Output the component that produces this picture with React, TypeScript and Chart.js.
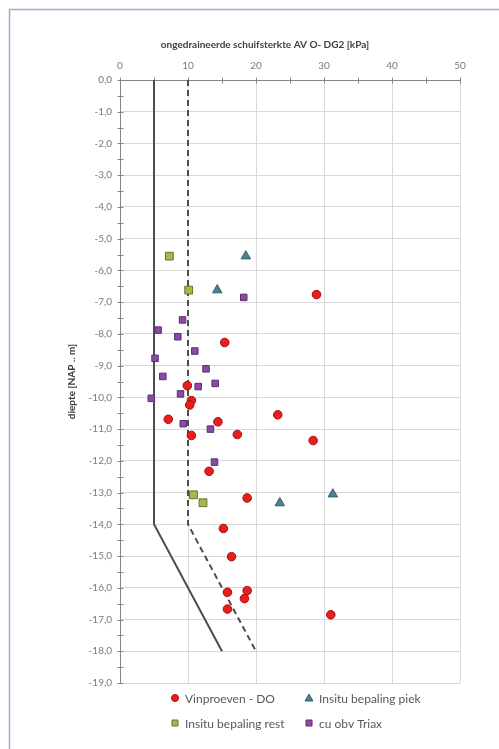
import React, { useEffect, useRef } from "react";
import { Chart, registerables } from "chart.js";

Chart.register(...registerables);

const TITLE = "ongedraineerde schuifsterkte AV O- DG2 [kPa]";
const Y_TITLE = "diepte [NAP .. m]";

// Vinproeven - DO (red circles)
const vinX = [28.9, 15.4, 9.9, 10.5, 10.25, 23.2, 7.1, 14.4, 10.5, 17.25, 28.4, 13.1, 18.7, 15.2, 16.4, 15.8, 18.7, 18.3, 15.8, 31.0];
const vinY = [-6.76, -8.27, -9.63, -10.1, -10.24, -10.55, -10.69, -10.77, -11.2, -11.17, -11.36, -12.33, -13.17, -14.13, -15.02, -16.14, -16.09, -16.34, -16.67, -16.85];

// Insitu bepaling piek (triangles)
const piekX = [18.5, 14.3, 31.3, 23.5];
const piekY = [-5.55, -6.62, -13.05, -13.33];

// Insitu bepaling rest (green squares)
const restX = [7.25, 10.1, 10.8, 12.2];
const restY = [-5.55, -6.62, -13.07, -13.32];

// cu obv Triax (purple squares)
const triaxX = [18.2, 9.2, 5.6, 8.5, 11.0, 5.15, 12.65, 6.3, 11.5, 14.0, 8.9, 4.6, 9.3, 13.3, 13.9];
const triaxY = [-6.85, -7.56, -7.88, -8.09, -8.54, -8.77, -9.1, -9.34, -9.66, -9.56, -9.89, -10.03, -10.83, -11.0, -12.04];

// design lines
const lowerLineX = [5, 5, 15];
const upperLineX = [10, 10, 20];
const lineY = [0, -14, -18];

const X_MIN = 0, X_MAX = 50, X_STEP = 5, X_LABEL_STEP = 10;
const Y_MIN = -19, Y_MAX = 0, Y_STEP = 0.5;

const zip = (xs: number[], ys: number[]) => xs.map((x, i) => ({ x, y: ys[i] }));

const COLORS = {
  red: "#e61e1e", redB: "#a80f0f",
  tri: "#4d7f92", triB: "#355f6e",
  green: "#a9b64a", greenB: "#6d7030",
  purple: "#8a4ba6", purpleB: "#5a2e70",
  grid: "#d9d9d9", axis: "#868686", text: "#7a7a7a",
};

const legendItems = [
  { label: "Vinproeven - DO", style: "circle", fill: COLORS.red, border: COLORS.redB, col: 0, row: 0 },
  { label: "Insitu bepaling piek", style: "triangle", fill: COLORS.tri, border: COLORS.triB, col: 1, row: 0 },
  { label: "Insitu bepaling rest", style: "rect", fill: COLORS.green, border: COLORS.greenB, col: 0, row: 1 },
  { label: "cu obv Triax", style: "rect", fill: COLORS.purple, border: COLORS.purpleB, col: 1, row: 1 },
];

const decorPlugin = {
  id: "decor",
  beforeDatasetsDraw(chart: any) {
    const { ctx, chartArea } = chart;
    const xs = chart.scales.x, ys = chart.scales.y;
    ctx.save();
    ctx.strokeStyle = COLORS.axis;
    ctx.lineWidth = 1;
    // left axis
    const ax = Math.round(chartArea.left) + 0.5;
    const ay = Math.round(chartArea.top) + 0.5;
    ctx.beginPath();
    ctx.moveTo(ax, ys.getPixelForValue(Y_MIN));
    ctx.lineTo(ax, ay);
    ctx.lineTo(xs.getPixelForValue(X_MAX), ay);
    ctx.stroke();
    ctx.beginPath();
    for (let v = Y_MIN; v <= Y_MAX + 1e-9; v += Y_STEP) {
      const py = Math.round(ys.getPixelForValue(v)) + 0.5;
      ctx.moveTo(ax - 3, py);
      ctx.lineTo(ax + 3, py);
    }
    for (let v = X_MIN; v <= X_MAX + 1e-9; v += X_STEP) {
      const px = Math.round(xs.getPixelForValue(v)) + 0.5;
      ctx.moveTo(px, ay - 3);
      ctx.lineTo(px, ay + 3);
    }
    ctx.stroke();
    ctx.restore();
  },
  afterDraw(chart: any) {
    const { ctx, chartArea } = chart;
    ctx.save();
    // frame
    ctx.strokeStyle = "#a7a5cf";
    ctx.lineWidth = 1.5;
    ctx.beginPath();
    ctx.moveTo(9.5, chart.height);
    ctx.lineTo(9.5, 9.5);
    ctx.lineTo(chart.width, 9.5);
    ctx.stroke();
    // title
    ctx.fillStyle = "#404040";
    ctx.font = "bold 10px Lato";
    ctx.textAlign = "center";
    ctx.textBaseline = "middle";
    ctx.fillText(TITLE, 265, 45);
    // y title
    ctx.save();
    ctx.translate(72, (chartArea.top + chartArea.bottom) / 2);
    ctx.rotate(-Math.PI / 2);
    ctx.fillText(Y_TITLE, 0, 0);
    ctx.restore();
    // legend
    ctx.font = "12px Lato";
    ctx.textAlign = "left";
    ctx.fillStyle = "#595959";
    const colX = [175, 309];
    const rowY = [698, 723];
    legendItems.forEach((it) => {
      const x = colX[it.col], y = rowY[it.row];
      ctx.fillStyle = it.fill;
      ctx.strokeStyle = it.border;
      ctx.lineWidth = 1;
      ctx.beginPath();
      if (it.style === "circle") {
        ctx.arc(x, y, 3.5, 0, Math.PI * 2);
      } else if (it.style === "triangle") {
        ctx.moveTo(x, y - 4);
        ctx.lineTo(x + 4, y + 3);
        ctx.lineTo(x - 4, y + 3);
        ctx.closePath();
      } else {
        ctx.rect(x - 3, y - 3, 6, 6);
      }
      ctx.fill();
      ctx.stroke();
      ctx.fillStyle = "#595959";
      ctx.fillText(it.label, x + 10, y + 1);
    });
    ctx.restore();
  },
};

export default function App() {
  const ref = useRef<HTMLCanvasElement | null>(null);
  useEffect(() => {
    if (!ref.current) return;
    Chart.defaults.font.family = "Lato";
    const pointDs = (label: string, xs: number[], ys: number[], style: string, r: number, fill: string, border: string) => ({
      label,
      data: zip(xs, ys),
      pointStyle: style,
      pointRadius: r,
      pointHoverRadius: r,
      backgroundColor: fill,
      borderColor: border,
      borderWidth: 1,
      showLine: false,
      order: 0,
    });
    const chart = new Chart(ref.current, {
      type: "scatter",
      data: {
        datasets: [
          pointDs("Vinproeven - DO", vinX, vinY, "circle", 4.3, COLORS.red, COLORS.redB),
          pointDs("Insitu bepaling piek", piekX, piekY, "triangle", 5.5, COLORS.tri, COLORS.triB),
          pointDs("Insitu bepaling rest", restX, restY, "rect", 5.5, COLORS.green, COLORS.greenB),
          pointDs("cu obv Triax", triaxX, triaxY, "rect", 4.6, COLORS.purple, COLORS.purpleB),
          {
            label: "ondergrens",
            data: zip(lowerLineX, lineY),
            showLine: true,
            pointRadius: 0,
            borderColor: "#4d4d4d",
            borderWidth: 2,
            fill: false,
            order: 1,
          },
          {
            label: "rekenwaarde",
            data: zip(upperLineX, lineY),
            showLine: true,
            pointRadius: 0,
            borderColor: "#4d4d4d",
            borderWidth: 2,
            borderDash: [6, 4],
            fill: false,
            order: 1,
          },
        ] as any,
      },
      options: {
        animation: false,
        responsive: false,
        devicePixelRatio: 1,
        layout: { padding: { left: 0, right: 39, top: 0, bottom: 66 } },
        plugins: { legend: { display: false }, tooltip: { enabled: false }, title: { display: false } },
        scales: {
          x: {
            type: "linear",
            position: "top",
            min: X_MIN,
            max: X_MAX,
            afterFit: (s: any) => { s.height = 80; },
            border: { display: false },
            grid: {
              drawTicks: false,
              color: (c: any) => (c.tick && c.tick.value % 10 === 0 && c.tick.value !== 0 ? COLORS.grid : "rgba(0,0,0,0)"),
            },
            ticks: {
              stepSize: X_STEP,
              padding: 8,
              color: COLORS.text,
              font: { size: 10, family: "Lato" },
              maxRotation: 0,
              autoSkip: false,
              callback: (v: any) => (Number(v) % X_LABEL_STEP === 0 ? String(v) : ""),
            },
          },
          y: {
            type: "linear",
            min: Y_MIN,
            max: Y_MAX,
            afterFit: (s: any) => { s.width = 120; },
            border: { display: false },
            grid: {
              drawTicks: false,
              color: (c: any) => (c.tick && Number.isInteger(c.tick.value) && c.tick.value !== 0 ? COLORS.grid : "rgba(0,0,0,0)"),
            },
            ticks: {
              stepSize: Y_STEP,
              padding: 8,
              color: COLORS.text,
              font: { size: 10, family: "Lato" },
              autoSkip: false,
              callback: (v: any) => (Number.isInteger(Number(v)) ? Number(v).toFixed(1).replace(".", ",").replace("-0,0", "0,0") : ""),
            },
          },
        },
      },
      plugins: [decorPlugin],
    });
    return () => chart.destroy();
  }, []);
  return (
    <div style={{ position: "absolute", left: 0, top: 0, width: 499, height: 749, background: "#fff" }}>
      <canvas ref={ref} width={499} height={749} style={{ display: "block", width: 499, height: 749 }} />
    </div>
  );
}
